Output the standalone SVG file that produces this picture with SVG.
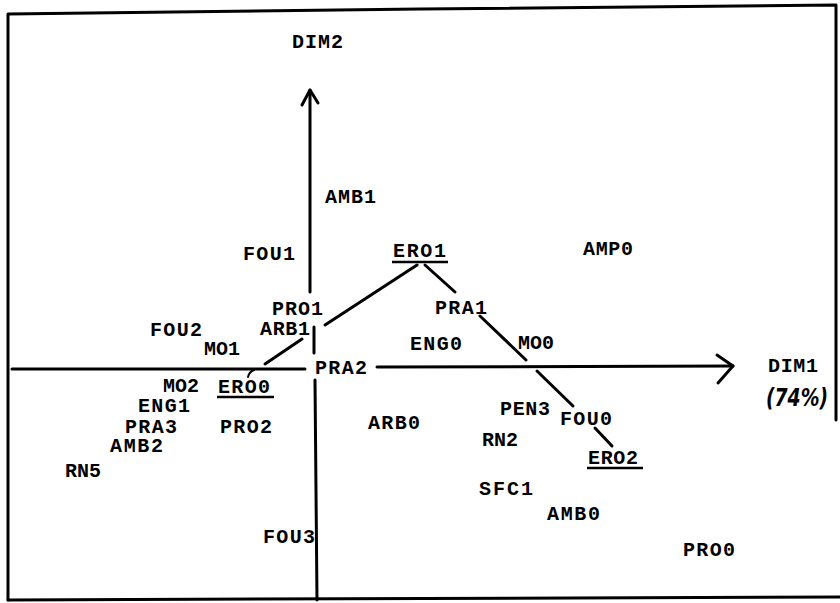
<svg xmlns="http://www.w3.org/2000/svg" width="840" height="603" viewBox="0 0 840 603">
<style>
.t{font-family:"Liberation Mono","Courier New",monospace;font-weight:bold;font-size:20px;fill:#000}
.h{font-family:"DejaVu Sans","Liberation Sans",sans-serif;font-style:italic;font-weight:bold;font-size:24px;fill:#000}
.ln{stroke:#000;stroke-width:3;fill:none;stroke-linecap:round;stroke-linejoin:round}
.ul{stroke:#000;stroke-width:2.5;fill:none}
</style>
<rect width="840" height="603" fill="#fff"/>
<g id="frame">
<path class="ln" d="M8,600 L8,14 L420,9 L836,5 L836,420"/>
<path class="ln" d="M8,600 L840,597"/>
</g>
<g id="connectors">
<path class="ln" d="M310,90 L310,292"/>
<path class="ln" d="M302,105 L310,90 L318,103"/>
<path class="ln" d="M314,327 L314,353"/>
<path class="ln" d="M315,380 L317,600"/>
<path class="ln" d="M12,369 L305,369"/>
<path class="ln" d="M377,367 L733,366"/>
<path class="ln" d="M717,355 L733,366 L718,383"/>
<path class="ln" d="M325,325 L417,265"/>
<path class="ln" d="M425,265 L455,292"/>
<path class="ln" d="M480,316 L526,360"/>
<path class="ln" d="M537,371 L573,406"/>
<path class="ln" d="M595,428 L612,446"/>
<path class="ln" d="M302,339 L265,364"/>
<path class="ln" style="stroke-width:2" d="M254,370 Q249,372 248,377"/>
</g>
<g id="DIM2"><text class="t" x="292" y="48" textLength="51">DIM2</text></g>
<g id="DIM1"><text class="t" x="768" y="372" textLength="50">DIM1</text><text class="h" x="766" y="406" textLength="62" lengthAdjust="spacingAndGlyphs">(74%)</text></g>
<g id="AMB1"><text class="t" x="325" y="203" textLength="51">AMB1</text></g>
<g id="FOU1"><text class="t" x="243" y="260" textLength="52">FOU1</text></g>
<g id="ERO1"><text class="t" x="393" y="257" textLength="53">ERO1</text><path class="ul" d="M392,262 L448,262"/></g>
<g id="AMP0"><text class="t" x="583" y="255" textLength="50">AMP0</text></g>
<g id="PRO1"><text class="t" x="272" y="315" textLength="51">PRO1</text></g>
<g id="ARB1"><text class="t" x="260" y="335" textLength="50">ARB1</text></g>
<g id="FOU2"><text class="t" x="150" y="336" textLength="52">FOU2</text></g>
<g id="MO1"><text class="t" x="204" y="355">MO1</text></g>
<g id="PRA1"><text class="t" x="435" y="314" textLength="52">PRA1</text></g>
<g id="ENG0"><text class="t" x="410" y="350" textLength="52">ENG0</text></g>
<g id="MO0"><text class="t" x="518" y="349">MO0</text></g>
<g id="PRA2"><text class="t" x="315" y="374" textLength="52">PRA2</text></g>
<g id="MO2"><text class="t" x="163" y="392">MO2</text></g>
<g id="ERO0"><text class="t" x="218" y="393" textLength="52">ERO0</text><path class="ul" d="M217,397 L274,397"/></g>
<g id="ENG1"><text class="t" x="138" y="412" textLength="52">ENG1</text></g>
<g id="PRA3"><text class="t" x="125" y="433" textLength="52">PRA3</text></g>
<g id="PRO2"><text class="t" x="220" y="433" textLength="52">PRO2</text></g>
<g id="AMB2"><text class="t" x="110" y="452" textLength="53">AMB2</text></g>
<g id="RN5"><text class="t" x="65" y="477">RN5</text></g>
<g id="ARB0"><text class="t" x="368" y="429" textLength="52">ARB0</text></g>
<g id="PEN3"><text class="t" x="500" y="415" textLength="50">PEN3</text></g>
<g id="FOU0"><text class="t" x="560" y="425" textLength="52">FOU0</text></g>
<g id="RN2"><text class="t" x="482" y="446">RN2</text></g>
<g id="ERO2"><text class="t" x="588" y="464" textLength="50">ERO2</text><path class="ul" d="M587,468 L643,468"/></g>
<g id="SFC1"><text class="t" x="479" y="495" textLength="54">SFC1</text></g>
<g id="AMB0"><text class="t" x="547" y="520" textLength="53">AMB0</text></g>
<g id="FOU3"><text class="t" x="263" y="543" textLength="52">FOU3</text></g>
<g id="PRO0"><text class="t" x="683" y="556" textLength="52">PRO0</text></g>
</svg>
